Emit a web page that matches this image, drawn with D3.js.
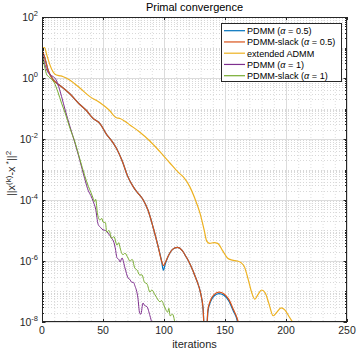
<!DOCTYPE html>
<html>
<head>
<meta charset="utf-8">
<script src="https://d3js.org/d3.v7.min.js"></script>
<style>
  body { margin: 0; background: #fff; }
  svg { font-family: "Liberation Sans", Arial, sans-serif; }
</style>
</head>
<body>
<svg id="chart" width="357" height="351"></svg>
<script>
// values (iteration, ||x(k)-x*||^2)
var itPdmm05 = [0, 2, 5, 9, 15, 23, 31, 36, 42, 47.5, 53, 57, 61, 66, 70, 74.6, 78, 83, 87, 91, 95, 98, 99.5, 101, 104, 107, 111, 115, 118, 121, 124, 127, 130, 132, 134, 136, 138, 141, 145, 149, 153, 157, 160, 162];
var valPdmm05 = [7.1, 5.0, 1.8, 0.89, 0.56, 0.30, 0.135, 0.089, 0.047, 0.032, 0.014, 8.9e-3, 5.0e-3, 1.8e-3, 6.3e-4, 2.8e-4, 1.8e-4, 1.0e-4, 4.5e-5, 1.3e-5, 3.2e-6, 1.0e-6, 5.0e-7, 7.9e-7, 1.6e-6, 2.4e-6, 2.8e-6, 2.2e-6, 1.4e-6, 8.5e-7, 4.5e-7, 2.2e-7, 8.9e-8, 2.8e-8, 1e-9, 2.2e-8, 4.5e-8, 7.1e-8, 8.5e-8, 7.6e-8, 5.0e-8, 2.2e-8, 1.1e-8, 3e-9];

var itSlack05 = [0, 2, 5, 9, 15, 23, 31, 36, 42, 47.5, 53, 57, 61, 66, 70, 74.6, 78, 83, 87, 91, 95, 98, 99.5, 101, 104, 107, 111, 115, 118, 121, 124, 127, 130, 132, 134, 136, 138, 141, 145, 149, 153, 157, 160, 162.5, 164];
var valSlack05 = [8.3, 5.0, 1.8, 0.89, 0.56, 0.30, 0.135, 0.089, 0.047, 0.032, 0.014, 8.9e-3, 5.0e-3, 1.8e-3, 6.3e-4, 2.8e-4, 1.8e-4, 1.0e-4, 4.5e-5, 1.3e-5, 3.2e-6, 1.0e-6, 7.1e-7, 8.9e-7, 1.6e-6, 2.4e-6, 2.8e-6, 2.2e-6, 1.4e-6, 8.5e-7, 4.5e-7, 2.2e-7, 8.9e-8, 2.8e-8, 1e-9, 2.5e-8, 5.0e-8, 7.9e-8, 9.5e-8, 8.5e-8, 5.6e-8, 2.5e-8, 1.3e-8, 5e-9, 2e-9];

var itAdmm = [0, 2, 4, 6.5, 9, 11, 14, 17, 23, 31, 39, 47, 55, 61, 64, 68, 72, 80, 88, 97, 105, 112, 116, 121, 125, 129.5, 133, 135, 137.5, 141, 144, 148, 152, 156, 160, 163, 166, 169, 172, 174.5, 177, 180, 183, 186, 189.5, 192, 196, 199, 203, 207];
var valAdmm = [9.5, 10, 5.6, 2.7, 1.6, 1.3, 1.2, 1.12, 0.85, 0.47, 0.25, 0.16, 0.089, 0.05, 0.047, 0.038, 0.029, 0.017, 8.9e-3, 3.7e-3, 1.6e-3, 7.9e-4, 5.6e-4, 2.8e-4, 1.2e-4, 3.7e-5, 1.0e-5, 4.5e-6, 3.8e-6, 4.0e-6, 3.8e-6, 2.2e-6, 1.26e-6, 1.07e-6, 1.0e-6, 8.9e-7, 6.3e-7, 2.5e-7, 8.9e-8, 5.6e-8, 7.9e-8, 1.12e-7, 8.9e-8, 4.0e-8, 1.6e-8, 2.0e-8, 2.9e-8, 2.5e-8, 1.4e-8, 7.9e-9];

var itPdmm1 = [0, 2, 4, 6.5, 9, 11, 13, 16, 19, 23, 27, 31, 35, 38, 40, 42, 44, 46, 48, 50, 52, 54, 57, 59, 60, 61.5, 63, 64, 65.6, 68, 70.5, 72, 73.6, 75, 76, 78.6, 80, 81, 82.8, 84, 86, 88.5, 90, 92.6];
var valPdmm1 = [7.1, 3.2, 1.8, 1.3, 1.12, 0.95, 0.63, 0.25, 0.089, 0.025, 7.4e-3, 2.0e-3, 5.0e-4, 2.0e-4, 1.4e-4, 8.9e-5, 5.0e-5, 1.6e-5, 1.26e-5, 1.05e-5, 1.0e-5, 8.3e-6, 5.6e-6, 4.0e-6, 2.7e-6, 1.26e-6, 1.12e-6, 9.3e-7, 1.26e-6, 5.9e-7, 2.8e-7, 2.5e-7, 2.0e-7, 2.0e-7, 1.6e-7, 6.2e-8, 2.0e-8, 1.8e-8, 4.2e-8, 3.5e-8, 3.2e-8, 1.6e-8, 1.0e-8, 7.9e-9];

var itSlack1 = [0, 2, 4, 6, 8, 10, 13, 16, 19, 23, 27, 31, 35, 38, 40, 42, 43, 44, 45.5, 47.5, 49, 50, 52, 53, 55, 57, 59, 61.5, 63, 64, 66.4, 68, 70.5, 72, 74, 76, 78, 80, 82, 84, 86, 88.5, 90, 92.6, 94, 96.7, 98, 100.8, 103, 104, 105, 107, 109];
var valSlack1 = [6.6, 2.5, 1.26, 1.07, 0.89, 0.71, 0.35, 0.15, 0.071, 0.022, 7.9e-3, 2.2e-3, 6.3e-4, 2.8e-4, 1.8e-4, 1.12e-4, 8.9e-5, 1.05e-4, 3.5e-5, 2.2e-5, 2.5e-5, 1.9e-5, 1.8e-5, 8.9e-6, 1.0e-5, 5.6e-6, 6.3e-6, 3.3e-6, 4.0e-6, 2.7e-6, 1.6e-6, 1.8e-6, 1.26e-6, 1.0e-6, 1.12e-6, 5.9e-7, 5.0e-7, 3.5e-7, 3.5e-7, 2.0e-7, 1.8e-7, 9.5e-8, 1.12e-7, 7.8e-8, 6.3e-8, 4.6e-8, 5.0e-8, 2.9e-8, 2.1e-8, 2.8e-8, 1.6e-8, 1.8e-8, 8.9e-9];

var seriesNames = ["PDMM (\u03b1 = 0.5)", "PDMM-slack (\u03b1 = 0.5)", "extended ADMM", "PDMM (\u03b1 = 1)", "PDMM-slack (\u03b1 = 1)"];
var seriesColors = ["#0072BD", "#D95319", "#EDB120", "#7E2F8E", "#77AC30"];
var xTicks = [0, 50, 100, 150, 200, 250];
var yTickExps = [-8, -6, -4, -2, 0, 2];

var margin = {left: 42, right: 10, top: 17, bottom: 29};
var W = 357, H = 351;
var svg = d3.select("#chart");

var x = d3.scaleLinear().domain([0, 250]).range([margin.left, W - margin.right]);
var y = d3.scaleLog().domain([1e-8, 1e2]).range([H - margin.bottom, margin.top]);

var x0 = x.range()[0], x1 = x.range()[1], y0 = y.range()[0], y1 = y.range()[1];

svg.append("defs").append("clipPath").attr("id", "clip")
  .append("rect").attr("x", x0).attr("y", y1).attr("width", x1 - x0).attr("height", y0 - y1);

// grid: minor first, then major
var minorY = [];
for (var e = -8; e < 2; e++) {
  for (var m = 2; m <= 10; m++) {
    var v = m * Math.pow(10, e);
    if (m == 10 && (e + 1) % 2 == 0) continue;
    minorY.push(v);
  }
}
var minorX = d3.range(10, 250, 10).filter(function(d) { return d % 50 != 0; });

var grid = svg.append("g").attr("class", "grid");
grid.selectAll("line.mx").data(minorX).enter().append("line")
  .attr("x1", function(d) { return x(d) + 0.5; }).attr("x2", function(d) { return x(d) + 0.5; })
  .attr("y1", y1).attr("y2", y0)
  .attr("stroke", "#c8c8c8").attr("stroke-width", 0.6).attr("stroke-dasharray", "1,2");
grid.selectAll("line.my").data(minorY).enter().append("line")
  .attr("x1", x0).attr("x2", x1)
  .attr("y1", function(d) { return Math.round(y(d)) + 0.5; }).attr("y2", function(d) { return Math.round(y(d)) + 0.5; })
  .attr("stroke", "#bdbdbd").attr("stroke-width", 0.6).attr("stroke-dasharray", "1,2");
grid.selectAll("line.gx").data(xTicks).enter().append("line")
  .attr("x1", function(d) { return x(d) + 0.5; }).attr("x2", function(d) { return x(d) + 0.5; })
  .attr("y1", y1).attr("y2", y0)
  .attr("stroke", "#dcdcdc").attr("stroke-width", 1);
grid.selectAll("line.gy").data(yTickExps).enter().append("line")
  .attr("x1", x0).attr("x2", x1)
  .attr("y1", function(d) { return Math.round(y(Math.pow(10, d))) + 0.5; })
  .attr("y2", function(d) { return Math.round(y(Math.pow(10, d))) + 0.5; })
  .attr("stroke", "#dcdcdc").attr("stroke-width", 1);

// curves
var series = [
  {it: itPdmm05, val: valPdmm05},
  {it: itSlack05, val: valSlack05},
  {it: itAdmm, val: valAdmm},
  {it: itPdmm1, val: valPdmm1},
  {it: itSlack1, val: valSlack1}
];

var line = d3.line()
  .x(function(d) { return x(d[0]); })
  .y(function(d) { return y(d[1]); })
  .curve(d3.curveMonotoneX);

var plot = svg.append("g").attr("clip-path", "url(#clip)");
series.forEach(function(s, i) {
  var pts = s.it.map(function(t, j) { return [t, s.val[j]]; });
  plot.append("path")
    .datum(pts)
    .attr("d", line)
    .attr("fill", "none")
    .attr("stroke", seriesColors[i])
    .attr("stroke-width", i < 3 ? 1.2 : 1);
});

// axes box and ticks
var ax = svg.append("g").attr("stroke", "#262626");
ax.append("rect").attr("x", x0 + 0.5).attr("y", y1 + 0.5)
  .attr("width", x1 - x0 - 1).attr("height", y0 - y1 - 1)
  .attr("fill", "none").attr("stroke-width", 1);

xTicks.forEach(function(t) {
  var px = Math.round(x(t)) + 0.5;
  ax.append("line").attr("x1", px).attr("x2", px).attr("y1", y0).attr("y2", y0 - 3);
  ax.append("line").attr("x1", px).attr("x2", px).attr("y1", y1).attr("y2", y1 + 3);
});
for (var e2 = -8; e2 <= 2; e2++) {
  var py = Math.round(y(Math.pow(10, e2))) + 0.5;
  var len = (e2 % 2 == 0) ? 3.5 : 2;
  ax.append("line").attr("x1", x0).attr("x2", x0 + len).attr("y1", py).attr("y2", py);
  ax.append("line").attr("x1", x1).attr("x2", x1 - len).attr("y1", py).attr("y2", py);
}
minorY.forEach(function(v) {
  var py = Math.round(y(v)) + 0.5;
  ax.append("line").attr("x1", x0).attr("x2", x0 + 2).attr("y1", py).attr("y2", py);
  ax.append("line").attr("x1", x1).attr("x2", x1 - 2).attr("y1", py).attr("y2", py);
});

// tick labels
var labels = svg.append("g").attr("fill", "#262626").attr("font-size", 10.5);
labels.selectAll("text.xt").data(xTicks).enter().append("text")
  .attr("x", function(d) { return x(d); })
  .attr("y", y0 + 12)
  .attr("text-anchor", "middle")
  .text(function(d) { return d; });

yTickExps.forEach(function(ex) {
  var t = labels.append("text")
    .attr("x", x0 - 4)
    .attr("y", y(Math.pow(10, ex)) + 4)
    .attr("text-anchor", "end");
  t.append("tspan").text("10");
  t.append("tspan").attr("dy", -5).attr("font-size", 7.5).text(ex);
});

// title and axis labels
svg.append("text").attr("x", (x0 + x1) / 2).attr("y", 11)
  .attr("text-anchor", "middle").attr("font-size", 11).attr("fill", "#000")
  .text("Primal convergence");

svg.append("text").attr("x", (x0 + x1) / 2).attr("y", 348)
  .attr("text-anchor", "middle").attr("font-size", 11).attr("fill", "#262626")
  .text("iterations");

var yl = svg.append("text")
  .attr("transform", "translate(15," + ((y0 + y1) / 2 + 4) + ") rotate(-90)")
  .attr("text-anchor", "middle").attr("font-size", 11).attr("fill", "#262626");
yl.append("tspan").text("||x");
yl.append("tspan").attr("dy", -4.5).attr("font-size", 8).text("(k)");
yl.append("tspan").attr("dy", 4.5).text("-x");
yl.append("tspan").attr("dy", -4.5).attr("font-size", 8).text(" *");
yl.append("tspan").attr("dy", 4.5).text("||");
yl.append("tspan").attr("dy", -4.5).attr("font-size", 8).text("2");

// legend
var lg = svg.append("g");
lg.append("rect").attr("x", 221.5).attr("y", 23.5).attr("width", 120).attr("height", 58)
  .attr("fill", "#fff").attr("stroke", "#262626").attr("stroke-width", 1);
seriesNames.forEach(function(n, i) {
  var ly = 30.7 + i * 11.25;
  lg.append("line").attr("x1", 224).attr("x2", 245).attr("y1", ly).attr("y2", ly)
    .attr("stroke", seriesColors[i]).attr("stroke-width", 1.2);
  var t = lg.append("text").attr("x", 247).attr("y", ly + 3.3)
    .attr("font-size", 9.1).attr("fill", "#000");
  var k = n.indexOf("\u03b1");
  if (k < 0) { t.text(n); }
  else {
    t.append("tspan").text(n.slice(0, k));
    t.append("tspan").attr("font-style", "italic").text("\u03b1");
    t.append("tspan").text(n.slice(k + 1));
  }
});
</script>
</body>
</html>
